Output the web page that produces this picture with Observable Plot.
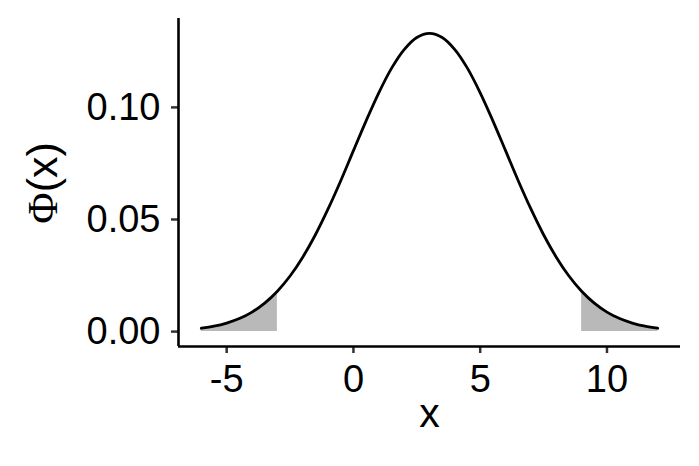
<!DOCTYPE html>
<html>
<head>
<meta charset="utf-8">
<script src="https://cdn.jsdelivr.net/npm/d3@7"></script>
<script src="https://cdn.jsdelivr.net/npm/@observablehq/plot@0.6"></script>
<style>
  html, body { margin: 0; padding: 0; background: #fff; }
  #chart svg { display: block; }
</style>
</head>
<body>
<div id="chart"></div>
<script>
// Density curve
const xs = [-6,-5.5,-5,-4.5,-4,-3.5,-3,-2.5,-2,-1.5,-1,-0.5,0,0.5,1,1.5,2,2.5,3,
            3.5,4,4.5,5,5.5,6,6.5,7,7.5,8,8.5,9,9.5,10,10.5,11,11.5,12];
const ys = [0.0015,0.0024,0.0038,0.0058,0.0087,0.0127,0.0180,0.0248,0.0332,0.0432,0.0547,0.0673,0.0807,0.0940,0.1065,0.1174,0.1258,0.1312,0.1330,
            0.1312,0.1258,0.1174,0.1065,0.0940,0.0807,0.0673,0.0547,0.0432,0.0332,0.0248,0.0180,0.0127,0.0087,0.0058,0.0038,0.0024,0.0015];
// Shaded tails
const tailLow = -3;
const tailHigh = 9;
// Tick labels
const xTicks = [-5, 0, 5, 10];
const yTicks = [0, 0.05, 0.10];

const data = xs.map((x, i) => ({x, y: ys[i]}));
const left = data.filter(d => d.x <= tailLow);
const right = data.filter(d => d.x >= tailHigh);

const xDom = [-6.9, 12.9];
const yDom = [-0.00665, 0.13965];

const chart = Plot.plot({
  width: 699,
  height: 466,
  marginLeft: 178,
  marginRight: 19,
  marginTop: 18,
  marginBottom: 120,
  style: {fontFamily: "'Liberation Sans', Arial, sans-serif", color: "black", background: "white"},
  x: {domain: xDom},
  y: {domain: yDom},
  marks: [
    Plot.areaY(left, {x: "x", y: "y", fill: "#b9b9b9", curve: "catmull-rom"}),
    Plot.areaY(right, {x: "x", y: "y", fill: "#b9b9b9", curve: "catmull-rom"}),
    Plot.line(data, {x: "x", y: "y", stroke: "black", strokeWidth: 2.8, curve: "catmull-rom"}),
    Plot.axisX({ticks: xTicks, tickFormat: d => d < 0 ? "-" + Math.abs(d) : String(d), tickSize: 7, tickPadding: 12, fontSize: 38, stroke: "#333", strokeWidth: 2.5, fill: "black", label: null}),
    Plot.axisY({ticks: yTicks, tickFormat: d3.format(".2f"), tickSize: 7, tickPadding: 11, fontSize: 38, stroke: "#333", strokeWidth: 2.5, fill: "black", label: null}),
    Plot.ruleX([xDom[0]], {y1: yDom[0], y2: yDom[1], stroke: "black", strokeWidth: 2.6}),
    Plot.ruleY([yDom[0]], {x1: xDom[0], x2: xDom[1], stroke: "black", strokeWidth: 2.6}),
    Plot.text(["x"], {frameAnchor: "bottom", dy: 80, fontSize: 41, fill: "black"})
  ]
});

const svg = d3.select(chart);
const yl = svg.append("text")
  .attr("transform", "translate(57,183) rotate(-90)")
  .attr("text-anchor", "middle")
  .attr("fill", "black")
  .attr("font-size", 43);
yl.append("tspan").attr("font-family", "'Liberation Serif', 'DejaVu Serif', serif").text("Φ");
yl.append("tspan").attr("font-family", "'Liberation Sans', Arial, sans-serif").text("(x)");

document.getElementById("chart").appendChild(chart);
</script>
</body>
</html>
